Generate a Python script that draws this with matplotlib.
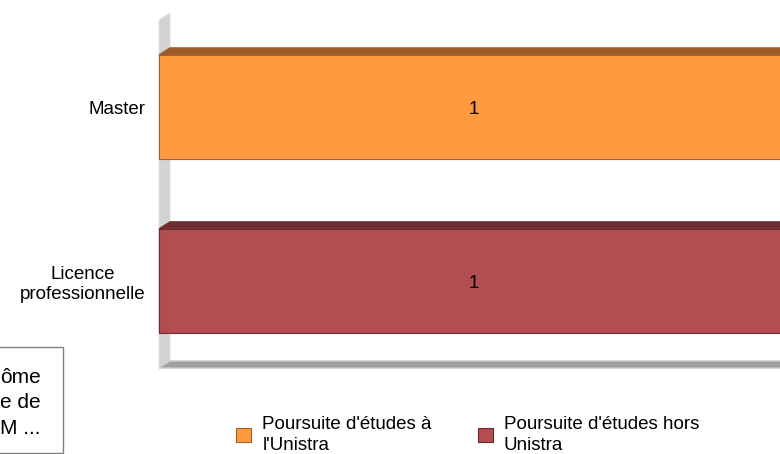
import matplotlib
matplotlib.use("Agg")
import matplotlib.pyplot as plt
from matplotlib.patches import Polygon, Rectangle, Patch

plt.rcParams['font.family'] = ['Liberation Sans', 'DejaVu Sans']

# ---- data ----
categories = ["Licence\nprofessionnelle", "Master"]          # bottom -> top
series_names = ["Poursuite d'études à\nl'Unistra", "Poursuite d'études hors\nUnistra"]
unistra = [0, 1]
hors_unistra = [1, 0]
series_values = [unistra, hors_unistra]
front_colors = ["#ff9a40", "#b34d50"]
top_colors = ["#9c5a28", "#6e2f31"]
edge_colors = ["#a0602a", "#6b2b2d"]

FS = 13.5
W, H = 780, 454
fig = plt.figure(figsize=(W / 100, H / 100), dpi=100)

# plot area in pixels (front plane)
x0_px, x1_px = 159, 789
ytop_px, ybot_px = 20, 368
ax = fig.add_axes([x0_px / W, (H - ybot_px) / H, (x1_px - x0_px) / W, (ybot_px - ytop_px) / H])
xmax = 1.0
ax.set_xlim(0, xmax)
ax.set_ylim(-0.5, len(categories) - 0.5)
for s in ax.spines.values():
    s.set_visible(False)
ax.set_xticks([])
ax.set_yticks(range(len(categories)))
ax.set_yticklabels(categories, fontsize=FS, multialignment='center')
ax.tick_params(axis='y', length=0, pad=10)
ax.set_facecolor('none')

# depth offsets in data units
dx_px, dy_px = 11, 7
dxd = dx_px * xmax / (x1_px - x0_px)
dyd = dy_px * len(categories) / (ybot_px - ytop_px)
ylo, yhi = -0.5, len(categories) - 0.5

# wall and floor
wall = Polygon([(0, ylo), (dxd, ylo + dyd), (dxd, yhi + dyd), (0, yhi)], closed=True,
               facecolor="#d3d3d3", edgecolor="#e2e2e2", linewidth=0.8, zorder=1, clip_on=False)
ax.add_patch(wall)
floor = Polygon([(0, ylo), (dxd, ylo + dyd), (xmax + dxd, ylo + dyd), (xmax, ylo)], closed=True,
                facecolor="#a0a0a0", edgecolor="#c8c8c8", linewidth=1.0, zorder=1, clip_on=False)
ax.add_patch(floor)

bar_h = 0.6
left = [0.0] * len(categories)
for si, vals in enumerate(series_values):
    bars = ax.barh(range(len(categories)), vals, height=bar_h, left=left,
                   color=front_colors[si], edgecolor=edge_colors[si], linewidth=0.8,
                   zorder=3, clip_on=False)
    for ci, v in enumerate(vals):
        if v == 0:
            continue
        l = left[ci]
        r = l + v
        top = ci + bar_h / 2
        poly = Polygon([(l, top), (l + dxd, top + dyd), (r + dxd, top + dyd), (r, top)], closed=True,
                       facecolor=top_colors[si], edgecolor=edge_colors[si], linewidth=0.8,
                       zorder=3, clip_on=False)
        ax.add_patch(poly)
        ax.text(l + v / 2, ci, f"{v:g}", ha='center', va='center_baseline', fontsize=FS,
                color='#000000', zorder=5)
    left = [a + b for a, b in zip(left, vals)]

# legend
handles = [Patch(facecolor=front_colors[i], edgecolor=edge_colors[i], linewidth=0.8)
           for i in range(len(series_names))]
leg = fig.legend(handles, series_names, loc='center left', bbox_to_anchor=(236 / W, (H - 435) / H),
                 ncol=2, frameon=False, fontsize=FS, borderpad=0, borderaxespad=0,
                 handlelength=0.8, handleheight=0.8, handletextpad=0.6, columnspacing=2.45,
                 labelspacing=0)
for t in leg.get_texts():
    t.set_linespacing(1.35)

# clipped text box at bottom left
fig.patches.append(Rectangle(((-60) / W, (H - 453) / H), (62.5 + 60) / W, (453 - 347) / H,
                             transform=fig.transFigure, facecolor='white', edgecolor='#808080',
                             linewidth=1.0))
fig.text(0 / W, (H - 403) / H, "ôme\ne de\nM ...", ha='left', va='center', fontsize=15,
         linespacing=1.45)

fig.savefig("out.png", dpi=100)
